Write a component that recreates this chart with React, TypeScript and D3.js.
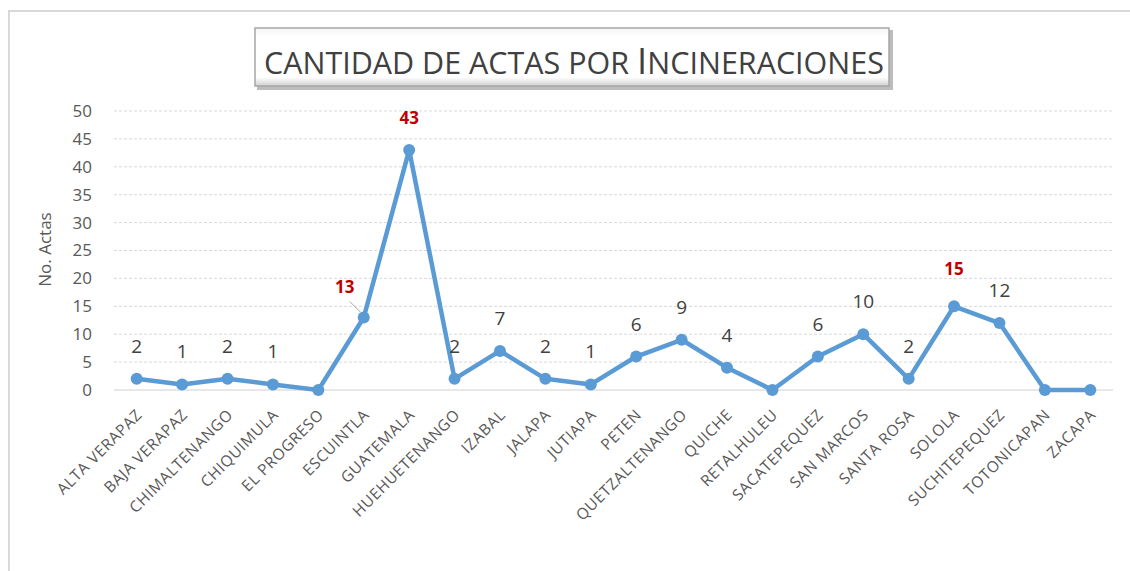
import React, { useEffect, useRef } from 'react';
import * as d3 from 'd3';

const width = 1130;
const height = 571;
const margin = { left: 114, right: 17, top: 111, bottom: 181 };

const departamentos = [
  'ALTA VERAPAZ', 'BAJA VERAPAZ', 'CHIMALTENANGO', 'CHIQUIMULA', 'EL PROGRESO',
  'ESCUINTLA', 'GUATEMALA', 'HUEHUETENANGO', 'IZABAL', 'JALAPA', 'JUTIAPA',
  'PETEN', 'QUETZALTENANGO', 'QUICHE', 'RETALHULEU', 'SACATEPEQUEZ', 'SAN MARCOS',
  'SANTA ROSA', 'SOLOLA', 'SUCHITEPEQUEZ', 'TOTONICAPAN', 'ZACAPA',
];
const actas = [2, 1, 2, 1, 0, 13, 43, 2, 7, 2, 1, 6, 9, 4, 0, 6, 10, 2, 15, 12, 0, 0];
const destacados = ['ESCUINTLA', 'GUATEMALA', 'SOLOLA'];
const yTicks = [0, 5, 10, 15, 20, 25, 30, 35, 40, 45, 50];
// title pieces: the "I" is drawn larger, like a small-caps heading
const tituloPartes = [
  { t: 'CANTIDAD DE ACTAS POR ', size: 31 },
  { t: 'I', size: 37 },
  { t: 'NCINERACIONES', size: 31 },
];

const font = '"Open Sans", "DejaVu Sans", sans-serif';

export default function App() {
  const ref = useRef<SVGSVGElement>(null);

  useEffect(() => {
    const svg = d3.select(ref.current);
    svg.selectAll('*').remove();

    const innerW = width - margin.left - margin.right;
    const innerH = height - margin.top - margin.bottom;

    const x = d3.scalePoint<string>()
      .domain(departamentos)
      .range([0, innerW])
      .padding(0.5);
    const y = d3.scaleLinear().domain([0, 50]).range([innerH, 0]);

    // chart area border
    svg.append('rect')
      .attr('x', 9).attr('y', 11)
      .attr('width', width + 20).attr('height', height)
      .attr('fill', 'white')
      .attr('stroke', '#d9d9d9').attr('stroke-width', 2);

    // title box
    const defs = svg.append('defs');
    const grad = defs.append('linearGradient').attr('id', 'tbox')
      .attr('x1', 0).attr('y1', 0).attr('x2', 0).attr('y2', 1);
    grad.append('stop').attr('offset', '0%').attr('stop-color', '#f4f4f4');
    grad.append('stop').attr('offset', '15%').attr('stop-color', '#ffffff');
    grad.append('stop').attr('offset', '85%').attr('stop-color', '#ffffff');
    grad.append('stop').attr('offset', '100%').attr('stop-color', '#d0d0d0');

    svg.append('rect')
      .attr('x', 257).attr('y', 30).attr('width', 636).attr('height', 60)
      .attr('fill', '#bdbdbd');
    svg.append('rect')
      .attr('x', 255).attr('y', 28).attr('width', 634).attr('height', 58)
      .attr('fill', 'url(#tbox)')
      .attr('stroke', '#a6a6a6').attr('stroke-width', 1.5);

    // title: lay the pieces side by side, then squeeze the group to the box width
    const tg = svg.append('g');
    let cursor = 0;
    tituloPartes.forEach(p => {
      const t = tg.append('text')
        .attr('x', cursor).attr('y', 0)
        .attr('font-family', font)
        .attr('font-size', p.size)
        .attr('font-weight', 500)
        .attr('fill', '#404040')
        .attr('xml:space', 'preserve')
        .style('white-space', 'pre')
        .text(p.t);
      cursor += (t.node() as SVGTextElement).getComputedTextLength();
    });
    const titleW = 620;
    const sx = titleW / cursor;
    tg.attr('transform', `translate(${574 - titleW / 2},74) scale(${sx},1)`);

    const g = svg.append('g').attr('transform', `translate(${margin.left},${margin.top})`);

    // gridlines
    g.selectAll('line.grid')
      .data(yTicks)
      .enter().append('line')
      .attr('x1', 0).attr('x2', innerW)
      .attr('y1', d => y(d)).attr('y2', d => y(d))
      .attr('stroke', d => (d === 0 ? '#d0d0d0' : '#d9d9d9'))
      .attr('stroke-width', 1)
      .attr('stroke-dasharray', d => (d === 0 ? null : '3,2'));

    // y axis
    const yAxis = d3.axisLeft(y).tickValues(yTicks).tickSize(0).tickPadding(22);
    const ya = g.append('g').call(yAxis);
    ya.select('.domain').remove();
    ya.selectAll('text')
      .attr('font-family', font).attr('font-size', 17).attr('fill', '#595959');

    svg.append('text')
      .attr('transform', `translate(51,${margin.top + innerH / 2 - 1}) rotate(-90)`)
      .attr('text-anchor', 'middle')
      .attr('font-family', font).attr('font-size', 17).attr('fill', '#595959')
      .text('No. Actas');

    // x axis labels
    const xAxis = d3.axisBottom(x).tickSize(0).tickPadding(0);
    const xa = g.append('g').attr('transform', `translate(0,${innerH})`).call(xAxis);
    xa.select('.domain').remove();
    xa.selectAll('text')
      .attr('font-family', font).attr('font-size', 15.5).attr('fill', '#595959')
      .attr('letter-spacing', 0.6)
      .attr('text-anchor', 'end')
      .attr('dy', '0.35em')
      .attr('transform', 'translate(2,22) rotate(-45)');

    // line
    const line = d3.line<number>()
      .x((d, i) => x(departamentos[i]) as number)
      .y(d => y(d));
    g.append('path')
      .datum(actas)
      .attr('d', line)
      .attr('fill', 'none')
      .attr('stroke', '#5b9bd5')
      .attr('stroke-width', 4.5)
      .attr('stroke-linejoin', 'round');

    g.selectAll('circle.pt')
      .data(actas)
      .enter().append('circle')
      .attr('cx', (d, i) => x(departamentos[i]) as number)
      .attr('cy', d => y(d))
      .attr('r', 6)
      .attr('fill', '#5b9bd5');

    // data labels (zeros carry none)
    const labeled = actas.map((v, i) => ({ v, name: departamentos[i] })).filter(d => d.v > 0);
    g.selectAll('text.lbl')
      .data(labeled)
      .enter().append('text')
      .attr('x', d => (x(d.name) as number) + (d.name === 'ESCUINTLA' ? -19 : 0))
      .attr('y', d => y(d.v) - (d.name === 'ESCUINTLA' ? 24 : d.name === 'SOLOLA' ? 31 : 26))
      .attr('text-anchor', 'middle')
      .attr('font-family', font)
      .attr('font-size', d => (destacados.includes(d.name) ? 17 : 19))
      .attr('font-weight', d => (destacados.includes(d.name) ? 'bold' : 'normal'))
      .attr('fill', d => (destacados.includes(d.name) ? '#c00000' : '#404040'))
      .text(d => d.v);

    // leader line for ESCUINTLA label
    const ex = x('ESCUINTLA') as number;
    const ey = y(13);
    g.append('line')
      .attr('x1', ex - 14).attr('y1', ey - 16)
      .attr('x2', ex - 3).attr('y2', ey - 5)
      .attr('stroke', '#a6a6a6').attr('stroke-width', 1);
  }, []);

  return (
    <svg
      ref={ref}
      width={width}
      height={height}
      style={{ position: 'absolute', left: 0, top: 0, background: 'white' }}
    />
  );
}
